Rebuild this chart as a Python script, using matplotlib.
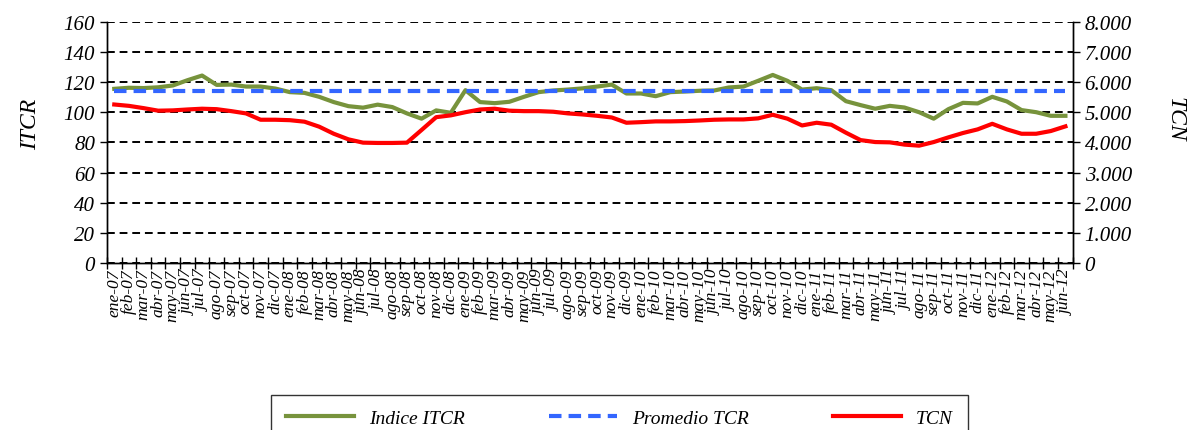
import matplotlib
matplotlib.use("Agg")
import matplotlib.pyplot as plt
from matplotlib.ticker import FuncFormatter, MultipleLocator
import numpy as np

# meses ene-07 .. jun-12
meses = ["ene", "feb", "mar", "abr", "may", "jun", "jul", "ago", "sep", "oct", "nov", "dic"]
etiquetas = [f"{m}-{a:02d}" for a in range(7, 13) for m in meses][:66]

# Indice ITCR (eje izquierdo)
itcr = [115.5, 116.2, 116.0, 116.5, 117.7, 121.2, 124.3, 118.1, 118.3, 117.0, 117.0, 115.7,
        113.3, 112.8, 110.2, 106.7, 104.0, 103.0, 105.0, 103.4, 99.2, 95.7, 101.2, 99.6,
        114.6, 106.7, 106.0, 106.9, 110.2, 113.3, 114.4, 115.0, 115.8, 117.0, 118.3, 112.4,
        112.4, 110.6, 113.3, 113.7, 114.2, 114.4, 116.4, 117.0, 120.8, 124.7, 120.8, 115.0,
        115.9, 114.6, 107.3, 104.7, 102.3, 104.2, 103.1, 100.0, 95.7, 102.0, 106.2, 105.8,
        110.2, 107.1, 101.4, 100.0, 97.6, 97.6]

# TCN (eje derecho)
tcn = [5255, 5210, 5135, 5050, 5060, 5090, 5115, 5100, 5035, 4960, 4750, 4750,
       4735, 4685, 4520, 4285, 4100, 3990, 3980, 3980, 3990, 4410, 4835, 4895,
       5000, 5090, 5115, 5050, 5035, 5035, 5015, 4960, 4925, 4880, 4825, 4650,
       4670, 4695, 4695, 4705, 4725, 4750, 4760, 4760, 4795, 4915, 4785, 4560,
       4650, 4585, 4320, 4075, 4010, 4000, 3925, 3890, 4010, 4165, 4310, 4430,
       4615, 4430, 4285, 4285, 4375, 4530]

promedio_tcr = 114.2

plt.rcParams['font.family'] = ['Liberation Serif', 'DejaVu Serif']
plt.rcParams['font.style'] = 'italic'

fig = plt.figure(figsize=(11.91, 4.31), dpi=100)
ax = fig.add_axes([0.0898, 0.3875, 0.8109, 0.5598])
ax2 = ax.twinx()

x = np.arange(len(etiquetas))

ax.set_ylim(0, 160)
ax.set_xlim(-0.5, len(etiquetas) - 0.5)
ax.yaxis.set_major_locator(MultipleLocator(20))
ax.grid(axis='y', color='black', linestyle=(0, (4, 2.5)), linewidth=1.4)
ax.set_axisbelow(True)

l1, = ax.plot(x, itcr, color='#77933C', linewidth=3, label='Indice ITCR', zorder=3)
l2, = ax.plot(x, [promedio_tcr] * len(x), color='#3366FF', linewidth=3,
              linestyle=(0, (3, 1.7)), label='Promedio TCR', zorder=3)

ax2.set_ylim(0, 8000)
ax2.yaxis.set_major_locator(MultipleLocator(1000))
ax2.yaxis.set_major_formatter(FuncFormatter(lambda v, p: "0" if v == 0 else f"{int(v):,}".replace(",", ".")))
l3, = ax2.plot(x, tcn, color='#FF0000', linewidth=3, label='TCN', zorder=3)

ax.set_xticks(x)
ax.set_xticklabels(etiquetas, rotation=90, fontsize=12.5)
ax.set_xticks(np.arange(-0.5, len(etiquetas)), minor=True)
ax.tick_params(axis='x', which='major', length=0, pad=4)
ax.tick_params(axis='x', which='minor', direction='inout', length=9, width=1, color='black')
ax.tick_params(axis='y', labelsize=15, length=5, width=1, direction='out')
ax2.tick_params(axis='y', labelsize=15, length=5, width=1, direction='out')

for a in (ax, ax2):
    a.spines['top'].set_visible(False)
    for s in ('left', 'right', 'bottom'):
        a.spines[s].set_color('black')
        a.spines[s].set_linewidth(1)

ax.set_ylabel('ITCR', fontsize=17)
ax.yaxis.set_label_coords(-0.068, 0.58)
ax2.set_ylabel('TCN', fontsize=17, rotation=270)
ax2.yaxis.set_label_coords(1.117, 0.60)

leg = fig.legend(handles=[l1, l2, l3], loc='upper center', bbox_to_anchor=(0.52, 0.081),
                 ncol=3, fontsize=14, frameon=True, fancybox=False, edgecolor='black',
                 handlelength=3.5, columnspacing=4.3, borderpad=0.75, borderaxespad=0)
leg.get_frame().set_linewidth(1)

fig.savefig('out.png', dpi=100)
